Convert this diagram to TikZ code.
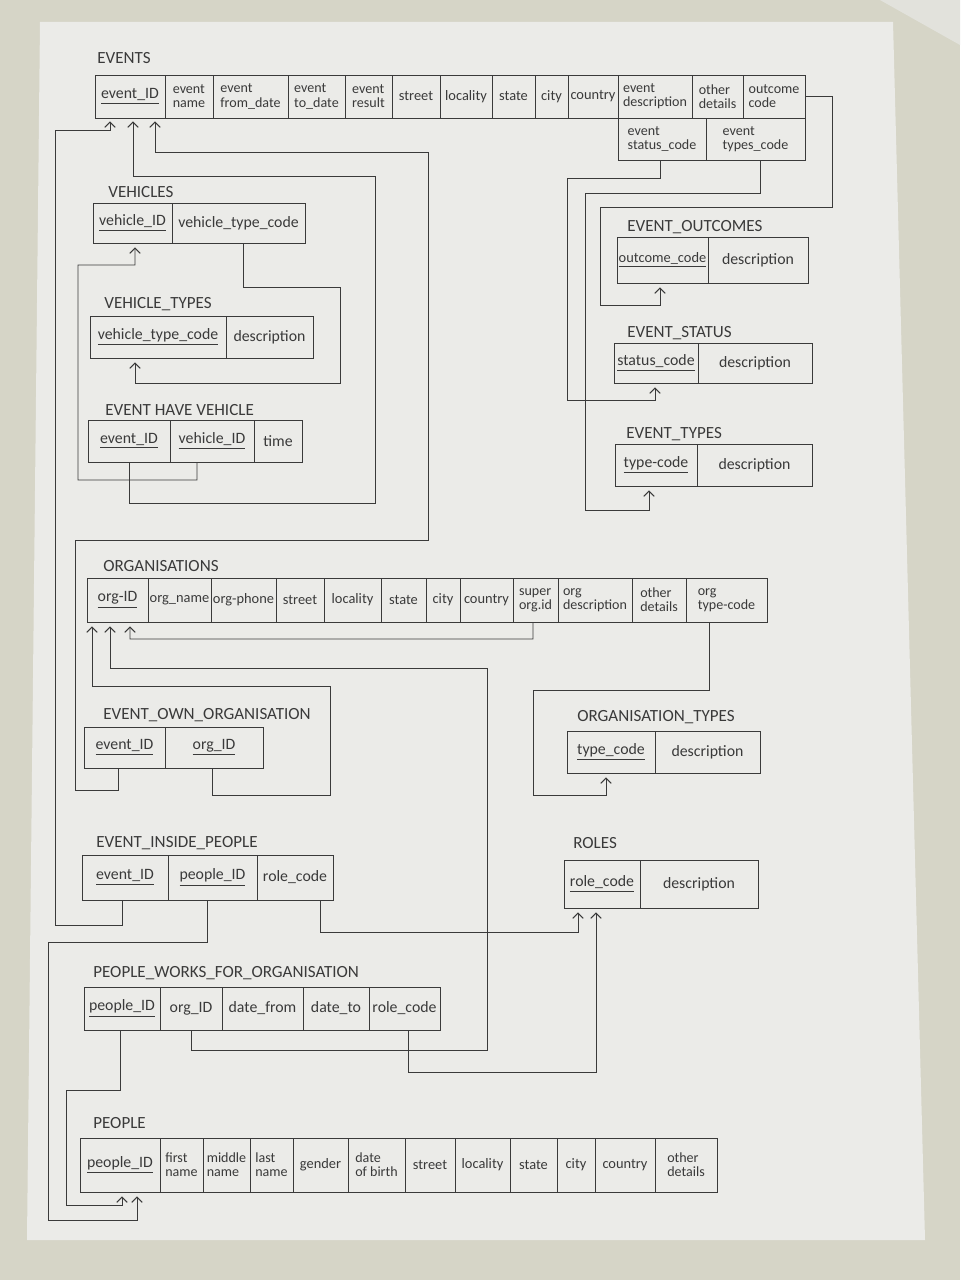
\documentclass[tikz,border=0pt]{standalone}
\usepackage{fontspec}
\setmainfont{Carlito}
\usetikzlibrary{calc,arrows.meta}
\definecolor{paper}{HTML}{EBEBE8}
\definecolor{desk}{HTML}{D6D5C7}
\definecolor{sheet}{HTML}{E2E2DC}
\definecolor{ink}{HTML}{3A3A3A}
\tikzset{
 cellst/.style={draw=ink, line width=0.5pt, inner sep=0pt, text=ink, font=\fontsize{9}{9.5}\selectfont, align=center},
 small/.style={font=\fontsize{8}{8}\selectfont, align=left},
 tight/.style={font=\fontsize{8.2}{8.5}\selectfont},
 ttl/.style={anchor=west, text=ink, font=\fontsize{9.7}{10}\selectfont, inner sep=0pt},
 fk/.style={draw=ink, line width=0.55pt, -{Straight Barb[length=3pt,width=6pt]}},
}
\newcommand\tcell[7][]{\node[cellst,#1, minimum width={(#4-#3)*0.02cm}, minimum height={(#6-#5)*0.02cm}] (#2) at ({(#3+#4)/2},{(#5+#6)/2}) {#7};}
\begin{document}
\begin{tikzpicture}[x=0.02cm,y=-0.02cm]
\useasboundingbox (0,0) rectangle (960,1280);
\fill[desk] (0,0) rectangle (960,1280);
\fill[sheet] (880,0) -- (960,0) -- (960,45) -- cycle;
\fill[paper] (40,22) -- (893,22) -- (925,1240) -- (27,1240) -- cycle;

% ---------- EVENTS ----------
\node[ttl] (tEvents) at (97,58) {EVENTS};
\tcell{ev1}{95}{165}{75}{118}{\underline{event\_ID}}
\tcell[small]{ev2}{165}{213}{75}{118}{event\\name}
\tcell[small]{ev3}{213}{288}{75}{118}{event\\from\_date}
\tcell[small]{ev4}{288}{345}{75}{118}{event\\to\_date}
\tcell[small]{ev5}{345}{392}{75}{118}{event\\result}
\tcell[tight]{ev6}{392}{440}{75}{118}{street}
\tcell[tight]{ev7}{440}{492}{75}{118}{locality}
\tcell[tight]{ev8}{492}{535}{75}{118}{state}
\tcell[tight]{ev9}{535}{568}{75}{118}{city}
\tcell[tight]{ev10}{568}{618}{75}{118}{country}
\tcell[small]{ev11}{618}{692}{75}{118}{event\\description}
\tcell[small]{ev12}{692}{743}{75}{118}{other\\details}
\tcell[small]{ev13}{743}{805}{75}{118}{outcome\\code}
\tcell[small]{ev14}{618}{706}{118}{160}{event\\status\_code}
\tcell[small]{ev15}{706}{805}{118}{160}{event\\types\_code}

% ---------- VEHICLES ----------
\node[ttl] (tVeh) at (108,192) {VEHICLES};
\tcell{veh1}{93}{172}{203}{243}{\underline{vehicle\_ID}}
\tcell{veh2}{172}{305}{203}{243}{vehicle\_type\_code}

\node[ttl] (tVT) at (104,304) {VEHICLE\_TYPES};
\tcell{vt1}{90}{226}{316}{358}{\underline{vehicle\_type\_code}}
\tcell{vt2}{226}{313}{316}{358}{description}

\node[ttl] (tEHV) at (105,410) {EVENT HAVE VEHICLE};
\tcell{ehv1}{88}{170}{420}{462}{\underline{event\_ID}}
\tcell{ehv2}{170}{254}{420}{462}{\underline{vehicle\_ID}}
\tcell{ehv3}{254}{302}{420}{462}{time}

% ---------- EVENT lookups ----------
\node[ttl] (tEO) at (627,227) {EVENT\_OUTCOMES};
\tcell[tight]{eo1}{617}{708}{237}{283}{\underline{outcome\_code}}
\tcell{eo2}{708}{808}{237}{283}{description}

\node[ttl] (tES) at (627,333) {EVENT\_STATUS};
\tcell{es1}{614}{698}{343}{383}{\underline{status\_code}}
\tcell{es2}{698}{812}{343}{383}{description}

\node[ttl] (tET) at (626,434) {EVENT\_TYPES};
\tcell{et1}{615}{697}{444}{486}{\underline{type-code}}
\tcell{et2}{697}{812}{444}{486}{description}

% ---------- ORGANISATIONS ----------
\node[ttl] (tOrg) at (103,566) {ORGANISATIONS};
\tcell{org1}{87}{148}{578}{622}{\underline{org-ID}}
\tcell[tight]{org2}{148}{211}{578}{622}{org\_name}
\tcell[tight]{org3}{211}{276}{578}{622}{org-phone}
\tcell[tight]{org4}{276}{324}{578}{622}{street}
\tcell[tight]{org5}{324}{381}{578}{622}{locality}
\tcell[tight]{org6}{381}{426}{578}{622}{state}
\tcell[tight]{org7}{426}{460}{578}{622}{city}
\tcell[tight]{org8}{460}{513}{578}{622}{country}
\tcell[small]{org9}{513}{558}{578}{622}{super\\org.id}
\tcell[small]{org10}{558}{632}{578}{622}{org\\description}
\tcell[small]{org11}{632}{686}{578}{622}{other\\details}
\tcell[small]{org12}{686}{767}{578}{622}{org\\type-code}

\node[ttl] (tEOO) at (103,715) {EVENT\_OWN\_ORGANISATION};
\tcell{eoo1}{84}{165}{727}{768}{\underline{event\_ID}}
\tcell{eoo2}{165}{263}{727}{768}{\underline{org\_ID}}

\node[ttl] (tOT) at (577,717) {ORGANISATION\_TYPES};
\tcell{ot1}{567}{655}{731}{773}{\underline{type\_code}}
\tcell{ot2}{655}{760}{731}{773}{description}

\node[ttl] (tEIP) at (96,843) {EVENT\_INSIDE\_PEOPLE};
\tcell{eip1}{82}{168}{855}{900}{\underline{event\_ID}}
\tcell{eip2}{168}{257}{855}{900}{\underline{people\_ID}}
\tcell{eip3}{257}{333}{855}{900}{role\_code}

\node[ttl] (tRoles) at (573,843) {ROLES};
\tcell{ro1}{564}{640}{860}{908}{\underline{role\_code}}
\tcell{ro2}{640}{758}{860}{908}{description}

\node[ttl] (tPW) at (93,973) {PEOPLE\_WORKS\_FOR\_ORGANISATION};
\tcell{pw1}{84}{160}{987}{1030}{\underline{people\_ID}}
\tcell{pw2}{160}{222}{987}{1030}{org\_ID}
\tcell{pw3}{222}{303}{987}{1030}{date\_from}
\tcell{pw4}{303}{369}{987}{1030}{date\_to}
\tcell{pw5}{369}{440}{987}{1030}{role\_code}

\node[ttl] (tPeople) at (93,1123) {PEOPLE};
\tcell{pe1}{80}{160}{1138}{1192}{\underline{people\_ID}}
\tcell[small]{pe2}{160}{203}{1138}{1192}{first\\name}
\tcell[small]{pe3}{203}{250}{1138}{1192}{middle\\name}
\tcell[small]{pe4}{250}{293}{1138}{1192}{last\\name}
\tcell[tight]{pe5}{293}{348}{1138}{1192}{gender}
\tcell[small]{pe6}{348}{405}{1138}{1192}{date\\of birth}
\tcell[tight]{pe7}{405}{455}{1138}{1192}{street}
\tcell[tight]{pe8}{455}{510}{1138}{1192}{locality}
\tcell[tight]{pe9}{510}{557}{1138}{1192}{state}
\tcell[tight]{pe10}{557}{595}{1138}{1192}{city}
\tcell[tight]{pe11}{595}{655}{1138}{1192}{country}
\tcell[small]{pe12}{655}{717}{1138}{1192}{other\\details}

% ---------- connectors ----------
% EIP.event_ID -> EVENTS.event_ID
\draw[fk] ($(eip1.south)+(-3,0)$) |- (55,925) |- (110,130) -- ($(ev1.south)+(-20,3)$);
% EHV.event_ID -> EVENTS.event_ID
\draw[fk] (ehv1.south) |- (375,503) |- (133,176) -- ($(ev1.south)+(3,3)$);
% EOO.event_ID -> EVENTS.event_ID
\draw[fk] ($(eoo1.south)+(-6,0)$) |- (75,790) |- (428,540) |- (155,152) -- ($(ev1.south)+(25,3)$);
% EHV.vehicle_ID -> VEHICLES.vehicle_ID
\draw[fk] ($(ehv2.south)+(-15,0)$) |- (78,480) |- (135,265) -- ($(veh1.south)+(2.5,4)$);
% VEHICLES.vehicle_type_code -> VEHICLE_TYPES
\draw[fk] ($(veh2.south)+(5,0)$) |- (340,287) |- (135,383) -- ($(vt1.south)+(-23,4)$);
% EVENTS.outcome code -> EVENT_OUTCOMES
\draw[fk] (ev13.east) -- ++(27,0) |- (600,207) |- (660,305) -- ($(eo1.south)+(-2.5,4)$);
% EVENTS.status_code -> EVENT_STATUS
\draw[fk] ($(ev14.south)+(-2,0)$) |- (567,178) |- (655,400) -- ($(es1.south)+(-1,4)$);
% EVENTS.types_code -> EVENT_TYPES
\draw[fk] ($(ev15.south)+(4.5,0)$) |- (585,193) |- (649,510) -- ($(et1.south)+(-7,4)$);
% ORG super org.id -> org-ID
\draw[fk] ($(org9.south)+(-2.5,0)$) |- (130,639) -- ($(org1.south)+(12.5,4)$);
% PWFO.org_ID -> ORG
\draw[fk] (pw2.south) |- (487,1050) |- (110,668) -- ($(org1.south)+(-7.5,4)$);
% EOO.org_ID -> ORG
\draw[fk] ($(eoo2.south)+(-2,0)$) |- (330,795) |- (92,686) -- ($(org1.south)+(-25.5,4)$);
% ORG type-code -> ORGANISATION_TYPES
\draw[fk] ($(org12.south)+(-17.5,0)$) |- (533,690) |- (606,795) -- ($(ot1.south)+(-5,4)$);
% EIP.role_code -> ROLES
\draw[fk] ($(eip3.south)+(25,0)$) |- ($(ro1.south)+(-24,24)$) -- ($(ro1.south)+(-24,4)$);
% PWFO.role_code -> ROLES
\draw[fk] ($(pw5.south)+(3.5,0)$) |- ($(ro1.south)+(-6,164)$) -- ($(ro1.south)+(-6,4)$);
% EIP.people_ID -> PEOPLE
\draw[fk] ($(eip2.south)+(-5.5,0)$) |- (48,942) |- (137,1220) -- ($(pe1.south)+(17,4)$);
% PWFO.people_ID -> PEOPLE
\draw[fk] ($(pw1.south)+(-2,0)$) |- (66,1090) |- (122,1205) -- ($(pe1.south)+(2,4)$);
\end{tikzpicture}
\end{document}
